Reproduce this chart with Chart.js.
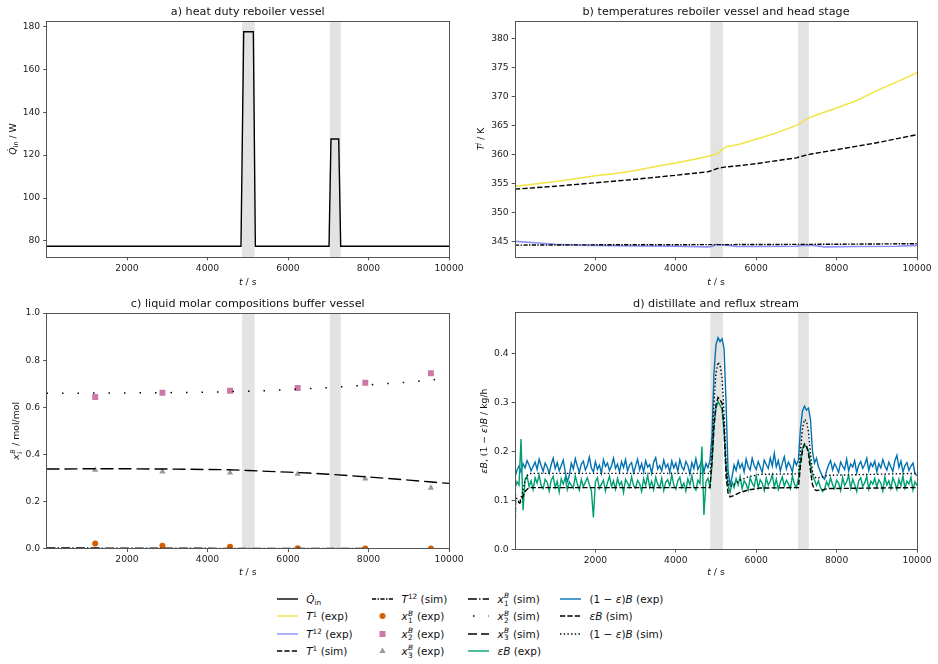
<!DOCTYPE html>
<html><head><meta charset="utf-8">
<script src="https://cdn.jsdelivr.net/npm/chart.js@4.4.1/dist/chart.umd.min.js"></script>
<style>
html,body{margin:0;padding:0;background:#fff;}
body{width:938px;height:664px;position:relative;overflow:hidden;font-family:'DejaVu Sans',sans-serif;}
canvas{position:absolute;}
.li{position:absolute;display:flex;align-items:center;height:14px;font-size:10.5px;color:#111;white-space:nowrap;}
.li svg{flex:none;}
.li .tx{margin-left:8.5px;line-height:14px;}
.li sub,.li sup{font-size:70%;line-height:0;position:relative;vertical-align:baseline;}
.li sub{top:0.3em;}
.li sup{top:-0.5em;}
.ss{display:inline-block;position:relative;width:0.8em;height:1em;font-size:70%;vertical-align:baseline;font-style:italic;}
.ss span{position:absolute;left:0.05em;line-height:1;}
.ss .u{top:-0.44em;}
.ss .d{top:0.56em;font-style:normal;}
</style>
</head><body>
<canvas id="ca" style="left:0px;top:0px" width="469" height="290"></canvas>
<canvas id="cb" style="left:469px;top:0px" width="469" height="290"></canvas>
<canvas id="cc" style="left:0px;top:290px" width="469" height="290"></canvas>
<canvas id="cd" style="left:469px;top:290px" width="469" height="290"></canvas>
<div id="legend"></div>
<script>
const FONT = "'DejaVu Sans', sans-serif";
const spans = [[4860, 5170], [7040, 7310]];
const xTicks = [2000, 4000, 6000, 8000, 10000];

// a) heat duty
const aT = [0, 4832, 4899, 5139, 5189, 7019, 7068, 7260, 7309, 10000];
const aQ = [77.5, 77.5, 177.5, 177.5, 77.5, 77.5, 127.5, 127.5, 77.5, 77.5];
const aYTicks = [80, 100, 120, 140, 160, 180];

// b) temperatures
const bT1ExpT = [0,500,1000,1500,2000,2500,3000,3500,4000,4500,4900,5000,5100,5250,5400,5600,6000,6500,7000,7100,7300,7500,8000,8500,9000,9500,10000];
const bT1Exp = [354.5,354.9,355.3,355.8,356.3,356.7,357.2,357.9,358.5,359.2,359.8,360.0,360.5,361.3,361.5,361.8,362.6,363.7,365.0,365.4,366.3,366.8,368.0,369.3,371.0,372.5,374.1];
const bT1SimT = [0,1000,2000,3000,4000,4800,4900,5000,5200,5500,6000,6500,7000,7200,7400,8000,9000,10000];
const bT1Sim = [354.0,354.5,355.1,355.7,356.4,357.0,357.2,357.5,357.8,358.0,358.4,358.9,359.4,359.8,360.1,360.8,362.0,363.4];
const bT12ExpT = [0,500,1000,1500,2000,3000,4000,4800,4900,5000,5300,5500,6000,7000,7200,7400,7700,8500,9500,10000];
const bT12Exp = [345.0,344.75,344.5,344.35,344.3,344.2,344.15,344.05,344.1,344.45,344.3,344.1,344.1,344.15,344.35,344.3,344.05,344.1,344.15,344.3];
const bT12SimT = [0,2000,4000,6000,8000,10000];
const bT12Sim = [344.35,344.4,344.42,344.45,344.5,344.6];
const bYTicks = [345, 350, 355, 360, 365, 370, 375, 380];

// c) compositions
const cExpT = [1210, 2880, 4560, 6240, 7920, 9550];
const cX1Exp = [0.022, 0.012, 0.008, 0.002, 0.001, 0.001];
const cX2Exp = [0.644, 0.662, 0.670, 0.682, 0.704, 0.744];
const cX3Exp = [0.334, 0.327, 0.322, 0.317, 0.297, 0.258];
const cSimT = [0,1000,2000,3000,4000,4500,5000,5500,6000,6500,7000,7500,8000,8500,9000,9500,10000];
const cX1Sim = [0.003,0.003,0.002,0.002,0.002,0.001,0.001,0.001,0.001,0.001,0.001,0.001,0.0005,0.0005,0.0005,0.0003,0.0002];
const cX2Sim = [0.660,0.660,0.661,0.662,0.664,0.666,0.668,0.671,0.675,0.679,0.683,0.689,0.695,0.701,0.707,0.715,0.724];
const cX3Sim = [0.338,0.339,0.339,0.338,0.336,0.335,0.332,0.328,0.325,0.321,0.316,0.310,0.304,0.298,0.291,0.284,0.277];
const cYTicks = [0, 0.2, 0.4, 0.6, 0.8, 1.0];

// d) distillate and reflux
const dT = [
0,50,100,150,200,250,300,350,400,450,500,550,600,650,700,750,800,850,900,950,
1000,1050,1100,1150,1200,1250,1300,1350,1400,1450,1500,1550,1600,1650,1700,1750,1800,1850,1900,1950,
2000,2050,2100,2150,2200,2250,2300,2350,2400,2450,2500,2550,2600,2650,2700,2750,2800,2850,2900,2950,
3000,3050,3100,3150,3200,3250,3300,3350,3400,3450,3500,3550,3600,3650,3700,3750,3800,3850,3900,3950,
4000,4050,4100,4150,4200,4250,4300,4350,4400,4450,4500,4550,4600,4650,4700,4750,4800,4850,4900,4950,
5000,5050,5100,5150,5200,5250,5300,5350,5400,5450,5500,5550,5600,5650,5700,5750,5800,5850,5900,5950,
6000,6050,6100,6150,6200,6250,6300,6350,6400,6450,6500,6550,6600,6650,6700,6750,6800,6850,6900,6950,
7000,7050,7100,7150,7200,7250,7300,7350,7400,7450,7500,7550,7600,7650,7700,7750,7800,7850,7900,7950,
8000,8050,8100,8150,8200,8250,8300,8350,8400,8450,8500,8550,8600,8650,8700,8750,8800,8850,8900,8950,
9000,9050,9100,9150,9200,9250,9300,9350,9400,9450,9500,9550,9600,9650,9700,9750,9800,9850,9900,9950,
10000];
const dRefluxExp = [
0.148,0.162,0.170,0.158,0.175,0.166,0.181,0.172,0.160,0.169,0.178,0.163,0.184,0.171,0.159,0.176,0.168,0.155,0.173,0.186,
0.165,0.177,0.160,0.171,0.182,0.158,0.138,0.150,0.176,0.164,0.185,0.170,0.157,0.174,0.180,0.162,0.171,0.188,0.166,0.158,
0.179,0.163,0.172,0.155,0.183,0.169,0.176,0.161,0.170,0.186,0.165,0.174,0.158,0.179,0.167,0.183,0.160,0.172,0.177,0.156,
0.170,0.184,0.162,0.175,0.158,0.181,0.168,0.173,0.155,0.178,0.187,0.164,0.171,0.160,0.182,0.167,0.174,0.157,0.180,0.166,
0.176,0.159,0.183,0.168,0.162,0.179,0.171,0.154,0.177,0.165,0.185,0.163,0.172,0.180,0.158,0.175,0.167,0.182,0.230,0.360,
0.418,0.432,0.424,0.430,0.410,0.300,0.160,0.132,0.148,0.172,0.161,0.180,0.166,0.175,0.158,0.184,0.169,0.162,0.186,0.171,
0.163,0.179,0.168,0.157,0.182,0.173,0.165,0.186,0.170,0.196,0.168,0.181,0.160,0.176,0.189,0.164,0.178,0.170,0.158,0.183,
0.172,0.182,0.245,0.282,0.292,0.284,0.288,0.265,0.200,0.176,0.186,0.168,0.158,0.148,0.143,0.160,0.172,0.181,0.162,0.175,
0.167,0.157,0.178,0.170,0.163,0.184,0.160,0.174,0.168,0.181,0.156,0.172,0.179,0.165,0.173,0.186,0.161,0.176,0.169,0.180,
0.158,0.175,0.166,0.183,0.170,0.162,0.178,0.168,0.159,0.181,0.192,0.167,0.180,0.158,0.171,0.177,0.161,0.170,0.176,0.155,
0.150];
const dDistExp = [
0.125,0.138,0.131,0.225,0.080,0.142,0.150,0.128,0.140,0.122,0.146,0.135,0.152,0.130,0.124,0.143,0.137,0.119,0.141,0.149,
0.126,0.139,0.117,0.144,0.133,0.147,0.122,0.138,0.131,0.125,0.150,0.134,0.121,0.143,0.128,0.137,0.146,0.132,0.120,0.065,
0.138,0.146,0.124,0.133,0.141,0.119,0.136,0.149,0.128,0.140,0.123,0.145,0.131,0.138,0.116,0.143,0.135,0.127,0.148,0.130,
0.125,0.141,0.134,0.118,0.144,0.130,0.151,0.127,0.139,0.122,0.147,0.133,0.126,0.145,0.120,0.137,0.142,0.129,0.152,0.131,
0.123,0.140,0.147,0.126,0.135,0.119,0.144,0.132,0.150,0.128,0.121,0.141,0.134,0.210,0.070,0.138,0.145,0.128,0.170,0.255,
0.288,0.302,0.294,0.286,0.240,0.170,0.130,0.116,0.137,0.126,0.144,0.131,0.149,0.124,0.140,0.133,0.121,0.146,0.135,0.128,
0.150,0.126,0.142,0.135,0.120,0.145,0.131,0.139,0.152,0.127,0.143,0.122,0.137,0.148,0.129,0.141,0.134,0.124,0.150,0.133,
0.126,0.144,0.180,0.206,0.214,0.208,0.202,0.175,0.150,0.142,0.130,0.140,0.126,0.118,0.122,0.138,0.129,0.146,0.132,0.124,
0.141,0.135,0.120,0.147,0.130,0.138,0.151,0.125,0.143,0.132,0.118,0.140,0.146,0.128,0.136,0.149,0.123,0.139,0.133,0.145,
0.127,0.142,0.135,0.119,0.148,0.131,0.140,0.124,0.146,0.136,0.122,0.143,0.130,0.150,0.125,0.139,0.133,0.147,0.121,0.138,
0.130];
const dSimT = [0,15,60,120,180,250,320,400,4850,4900,4950,5000,5050,5100,5150,5200,5250,5300,5350,5450,5600,5800,6100,7050,7100,7150,7200,7250,7300,7350,7400,7450,7500,7600,7800,10000];
const dDistSim = [0.0,0.100,0.098,0.094,0.105,0.118,0.124,0.126,0.126,0.180,0.250,0.295,0.310,0.305,0.298,0.250,0.150,0.115,0.107,0.110,0.116,0.121,0.125,0.126,0.170,0.200,0.215,0.212,0.195,0.160,0.132,0.122,0.120,0.121,0.124,0.126];
const dRefluxSim = [0.120,0.110,0.100,0.096,0.115,0.140,0.152,0.155,0.155,0.200,0.300,0.360,0.382,0.376,0.350,0.280,0.180,0.135,0.128,0.133,0.141,0.148,0.153,0.154,0.200,0.245,0.265,0.262,0.240,0.195,0.160,0.148,0.145,0.147,0.151,0.155];
const dYTicks = [0, 0.1, 0.2, 0.3, 0.4];

function xy(t, v) { return t.map((x, i) => ({ x: x, y: v[i] })); }

function fontStr(size, it) { return (it ? 'italic ' : '') + size + 'px ' + FONT; }
function segScale(s) { return (s.sub || s.sup || s.stk) ? 0.7 : 1; }
function segW(ctx, s, size) {
  ctx.font = fontStr(size * segScale(s), s.it);
  if (s.stk) return Math.max(ctx.measureText(s.stk[0]).width, ctx.measureText(s.stk[1]).width) + 1;
  return ctx.measureText(s.t).width;
}
function segsW(ctx, segs, size) { let w = 0; segs.forEach(s => { s.w = segW(ctx, s, size); w += s.w; }); return w; }
function drawSegs(ctx, segs, x, y, size) {
  segs.forEach(s => {
    ctx.font = fontStr(size * segScale(s), s.it);
    if (s.stk) {
      ctx.fillText(s.stk[0], x + 0.5, y - size * 0.45);
      ctx.font = fontStr(size * 0.7, false);
      ctx.fillText(s.stk[1], x + 0.5, y + size * 0.25);
    } else {
      ctx.fillText(s.t, x, y + (s.sub ? size * 0.25 : (s.sup ? -size * 0.42 : 0)));
    }
    x += s.w;
  });
}

const cfgs = {};
const decor = {
  id: 'decor',
  beforeDatasetsDraw(chart) {
    const c = cfgs[chart.canvas.id]; if (!c) return;
    const ctx = chart.ctx, a = chart.chartArea, x = chart.scales.x;
    ctx.save();
    ctx.fillStyle = 'rgba(128,128,128,0.22)';
    spans.forEach(([s, e]) => {
      const x0 = x.getPixelForValue(s), x1 = x.getPixelForValue(e);
      ctx.fillRect(x0, a.top, x1 - x0, a.bottom - a.top);
    });
    ctx.restore();
  },
  afterDraw(chart) {
    const c = cfgs[chart.canvas.id]; if (!c) return;
    const ctx = chart.ctx, a = chart.chartArea;
    ctx.save();
    ctx.strokeStyle = '#555'; ctx.lineWidth = 1;
    const L = Math.round(a.left - 0.5) + 0.5, R = Math.round(a.right - 0.5) + 0.5;
    const T = Math.round(a.top - 0.5) + 0.5, B = Math.round(a.bottom - 0.5) + 0.5;
    ctx.strokeRect(L, T, R - L, B - T);
    ctx.fillStyle = '#111';
    ctx.textBaseline = 'alphabetic';
    ctx.font = '11.2px ' + FONT;
    ctx.textAlign = 'center';
    ctx.fillText(c.title, (a.left + a.right) / 2, a.top - 6);
    ctx.textAlign = 'left';
    const xs = [{ t: 't', it: 1 }, { t: ' / s' }];
    const xw = segsW(ctx, xs, 9.3);
    drawSegs(ctx, xs, (a.left + a.right) / 2 - xw / 2, a.bottom + c.xlOff, 9.3);
    const yw = segsW(ctx, c.ylab, 9.3);
    ctx.translate(a.left + c.ylOff + 3.3, (a.top + a.bottom) / 2);
    ctx.rotate(-Math.PI / 2);
    drawSegs(ctx, c.ylab, -yw / 2, 0, 9.3);
    ctx.restore();
  }
};
Chart.register(decor);

function axisBase(ticksArr, fmt, fixFn) {
  return {
    type: 'linear',
    afterBuildTicks: s => { s.ticks = ticksArr.map(v => ({ value: v })); },
    afterFit: fixFn,
    ticks: { font: { family: FONT, size: 9.2 }, color: '#222', padding: 3, maxRotation: 0, autoSkip: false, callback: fmt },
    grid: { drawOnChartArea: false, drawTicks: true, tickLength: 3.3, tickColor: '#555', tickWidth: 1 },
    border: { display: false }
  };
}

function make(id, o) {
  cfgs[id] = o;
  const xAx = axisBase(xTicks, v => String(v), s => { s.height = o.xh; });
  xAx.min = o.xmin; xAx.max = o.xmax;
  xAx.ticks.padding = 2.5;
  const yAx = axisBase(o.yTicks, o.yfmt, s => { s.width = o.yw; });
  yAx.min = o.ymin; yAx.max = o.ymax;
  return new Chart(document.getElementById(id), {
    type: 'line',
    data: { datasets: o.ds },
    options: {
      responsive: false, animation: false, devicePixelRatio: 1,
      layout: { padding: { left: 0, right: o.pr, top: o.pt, bottom: 0 } },
      elements: { line: { tension: 0, fill: false }, point: { radius: 0 } },
      plugins: { legend: { display: false }, tooltip: { enabled: false } },
      scales: { x: xAx, y: yAx }
    }
  });
}

function line(data, color, width, dash, order) {
  return { data: data, borderColor: color, borderWidth: width, borderDash: dash || [], pointRadius: 0, fill: false, order: order || 0 };
}
function marks(data, color, style, r, order) {
  return { data: data, showLine: false, pointStyle: style, pointRadius: r, pointBackgroundColor: color, pointBorderColor: color, pointBorderWidth: 0, order: order || 0 };
}

make('ca', {
  title: 'a) heat duty reboiler vessel',
  ylab: [{ t: 'Q\u0307', it: 1 }, { t: 'in', sub: 1 }, { t: ' / W' }],
  ylOff: -34, xlOff: 27.5,
  xmin: 0, xmax: 10000, ymin: 72.5, ymax: 182.5, yTicks: aYTicks, yfmt: v => String(v),
  yw: 46.5, xh: 33, pr: 20, pt: 21,
  ds: [line(xy(aT, aQ), '#000', 1.4)]
});

make('cb', {
  title: 'b) temperatures reboiler vessel and head stage',
  ylab: [{ t: 'T', it: 1 }, { t: 'j', sup: 1, it: 1 }, { t: ' / K' }],
  ylOff: -34, xlOff: 27.5,
  xmin: 0, xmax: 10000, ymin: 342.3, ymax: 383, yTicks: bYTicks, yfmt: v => String(v),
  yw: 46, xh: 33, pr: 21, pt: 21,
  ds: [
    line(xy(bT12SimT, bT12Sim), '#000', 1.4, [4.2, 1.4, 1.4, 1.4], 0),
    line(xy(bT1SimT, bT1Sim), '#000', 1.4, [5.2, 2.2], 1),
    line(xy(bT12ExpT, bT12Exp), 'rgba(110,115,245,0.8)', 1.6, [], 2),
    line(xy(bT1ExpT, bT1Exp), '#F0E442', 1.5, [], 3)
  ]
});

make('cc', {
  title: 'c) liquid molar compositions buffer vessel',
  ylab: [{ t: 'x', it: 1 }, { stk: ['B', 'i'], it: 1 }, { t: ' / mol/mol' }],
  ylOff: -30.5, xlOff: 26.5,
  xmin: 0, xmax: 10000, ymin: 0, ymax: 1, yTicks: cYTicks, yfmt: v => v.toFixed(1),
  yw: 46.5, xh: 31.3, pr: 20, pt: 23,
  ds: [
    line(xy(cSimT, cX1Sim), '#000', 1.4, [8.9, 2.2, 1.4, 2.2], 0),
    line(xy(cSimT, cX2Sim), '#000', 1.5, [1.5, 14], 1),
    line(xy(cSimT, cX3Sim), '#000', 1.4, [13, 5], 2),
    marks(xy(cExpT, cX1Exp), '#D55E00', 'circle', 3, 3),
    marks(xy(cExpT, cX2Exp), '#CC79A7', 'rect', 4.2, 4),
    marks(xy(cExpT, cX3Exp), '#999999', 'triangle', 3.6, 5)
  ]
});

make('cd', {
  title: 'd) distillate and reflux stream',
  ylab: [{ t: '\u03b5B', it: 1 }, { t: ', (1 \u2212 ' }, { t: '\u03b5', it: 1 }, { t: ')' }, { t: 'B', it: 1 }, { t: ' / kg/h' }],
  ylOff: -31, xlOff: 26,
  xmin: 0, xmax: 10000, ymin: 0, ymax: 0.483, yTicks: dYTicks, yfmt: v => v.toFixed(1),
  yw: 46, xh: 30.7, pr: 21, pt: 22.7,
  ds: [
    line(xy(dSimT, dRefluxSim), '#000', 1.4, [1.4, 2.3], 0),
    line(xy(dSimT, dDistSim), '#000', 1.4, [5.2, 2.2], 1),
    line(xy(dT, dDistExp), '#009E73', 1.4, [], 2),
    line(xy(dT, dRefluxExp), '#0072B2', 1.4, [], 3)
  ]
});

// legend
const legItems = [
  ['<i>Q&#775;</i><sub>in</sub>', { k: 'l', c: '#000' }],
  ['<i>T</i><sup>1</sup> (exp)', { k: 'l', c: '#F0E442' }],
  ['<i>T</i><sup>12</sup> (exp)', { k: 'l', c: 'rgba(110,115,245,0.8)' }],
  ['<i>T</i><sup>1</sup> (sim)', { k: 'l', c: '#000', d: '5.2,2.2' }],
  ['<i>T</i><sup>12</sup> (sim)', { k: 'l', c: '#000', d: '4.2,1.4,1.4,1.4' }],
  ['<i>x</i><span class="ss"><span class="u">B</span><span class="d">1</span></span> (exp)', { k: 'o', c: '#D55E00' }],
  ['<i>x</i><span class="ss"><span class="u">B</span><span class="d">2</span></span> (exp)', { k: 's', c: '#CC79A7' }],
  ['<i>x</i><span class="ss"><span class="u">B</span><span class="d">3</span></span> (exp)', { k: 't', c: '#999999' }],
  ['<i>x</i><span class="ss"><span class="u">B</span><span class="d">1</span></span> (sim)', { k: 'l', c: '#000', d: '8.9,2.2,1.4,2.2' }],
  ['<i>x</i><span class="ss"><span class="u">B</span><span class="d">2</span></span> (sim)', { k: 'l', c: '#000', d: '1.5,14', off: 5 }],
  ['<i>x</i><span class="ss"><span class="u">B</span><span class="d">3</span></span> (sim)', { k: 'l', c: '#000', d: '9,4' }],
  ['<i>&#949;B</i> (exp)', { k: 'l', c: '#009E73' }],
  ['(1 &#8722; <i>&#949;</i>)<i>B</i> (exp)', { k: 'l', c: '#0072B2' }],
  ['<i>&#949;B</i> (sim)', { k: 'l', c: '#000', d: '5.2,2.2' }],
  ['(1 &#8722; <i>&#949;</i>)<i>B</i> (sim)', { k: 'l', c: '#000', d: '1.4,2.3' }]
];
const legColX = [276.7, 372, 468, 560];
const legRowY = [599, 616.3, 633.6, 650.9];
const legEl = document.getElementById('legend');
legItems.forEach((it, i) => {
  const col = Math.floor(i / 4), row = i % 4;
  const s = it[1];
  let g = '';
  if (s.k === 'l') g = `<line x1="${s.off || 0}" y1="7" x2="21" y2="7" stroke="${s.c}" stroke-width="1.4" ${s.d ? `stroke-dasharray="${s.d}"` : ''}/>`;
  else if (s.k === 'o') g = `<circle cx="10.5" cy="7" r="3" fill="${s.c}"/>`;
  else if (s.k === 's') g = `<rect x="7.5" y="4" width="6" height="6" fill="${s.c}"/>`;
  else g = `<polygon points="10.5,3.6 13.6,9 7.4,9" fill="${s.c}"/>`;
  const d = document.createElement('div');
  d.className = 'li';
  d.style.left = legColX[col] + 'px';
  d.style.top = (legRowY[row] - 7) + 'px';
  d.innerHTML = `<svg width="21" height="14" viewBox="0 0 21 14">${g}</svg><span class="tx">${it[0]}</span>`;
  legEl.appendChild(d);
});
</script>
</body></html>
